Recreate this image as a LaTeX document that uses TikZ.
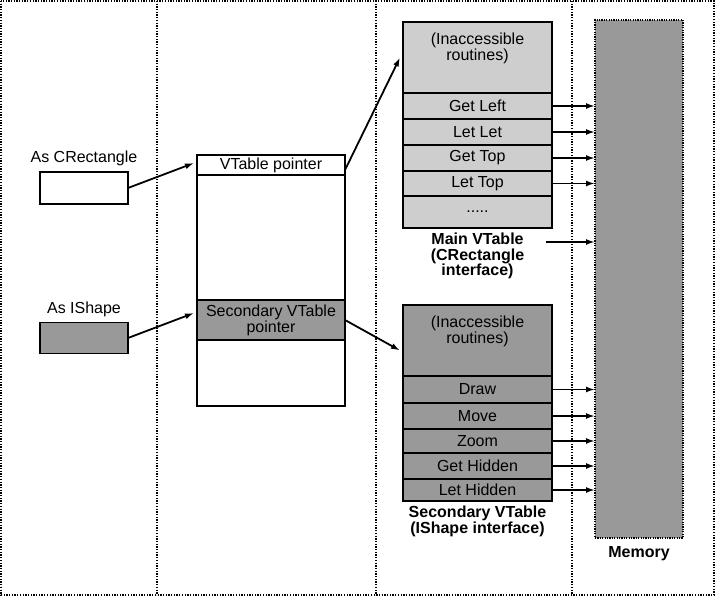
\documentclass[tikz,border=0pt]{standalone}
\usepackage{fontspec}
\setmainfont{Liberation Sans}
\usetikzlibrary{arrows.meta}
\definecolor{lightfill}{RGB}{206,206,206}
\definecolor{darkfill}{RGB}{153,153,153}
\begin{document}
\begin{tikzpicture}[x=1pt,y=-1pt,>={Latex[length=9pt,width=6pt]},
	every node/.style={font=\fontsize{16}{16}\selectfont,inner sep=0pt,outer sep=0pt,align=center},
	frame/.style={line width=1.3pt,dash pattern=on 1.3pt off 1.4pt},
	cell/.style={draw,line width=1.6pt,minimum width=149,minimum height=#1,anchor=north},
	mrow/.style={cell=#1,fill=lightfill},
	srow/.style={cell=#1,fill=darkfill},
	lbl/.style={font=\fontsize{16}{15.5}\selectfont\bfseries},
	arr/.style={->,line width=1.8pt}]
	\useasboundingbox (0,0) rectangle (715,596);
	% dotted frame and columns
	\draw[frame] (1,1) rectangle (714,595);
	\foreach \x in {157,376,572}
		\draw[frame] (\x,1) -- (\x,595);
	% the two references
	\node[draw,line width=1.6pt,minimum width=88,minimum height=32] (crect) at (84,188) {};
	\node[above=6pt] at (crect.north) {As CRectangle};
	\node[draw,line width=1.6pt,fill=darkfill,minimum width=88,minimum height=31] (ishape) at (84,338) {};
	\node[above=6pt] at (ishape.north) {As IShape};
	% the object
	\node[draw,line width=1.6pt,minimum width=148,minimum height=251,anchor=north] (obj) at (271,155) {};
	\node[cell=20,minimum width=148] (vtp) at (obj.north) {VTable pointer};
	\node[cell=40,minimum width=148,fill=darkfill] (spt) at (271,300) {Secondary VTable\\pointer};
	% main vtable
	\node[mrow=71] (mhid) at (477.5,22) {};
	\node[below=11pt] at (mhid.north) {(Inaccessible\\routines)};
	\node[mrow=26] (getleft) at (mhid.south) {Get Left};
	\node[mrow=26] (letlet) at (getleft.south) {Let Let};
	\node[mrow=26] (gettop) at (letlet.south) {Get Top};
	\node[mrow=25] (lettop) at (gettop.south) {Let Top};
	\node[mrow=32] (dots) at (lettop.south) {.....};
	\node[lbl,below=5pt] (mlbl) at (dots.south) {Main VTable\\(CRectangle\\interface)};
	% secondary vtable
	\node[srow=71] (shid) at (477.5,305) {};
	\node[below=11pt] at (shid.north) {(Inaccessible\\routines)};
	\node[srow=27] (shdraw) at (shid.south) {Draw};
	\node[srow=26] (shmove) at (shdraw.south) {Move};
	\node[srow=24] (shzoom) at (shmove.south) {Zoom};
	\node[srow=26] (gethidden) at (shzoom.south) {Get Hidden};
	\node[srow=22] (lethidden) at (gethidden.south) {Let Hidden};
	\node[lbl,below=5pt] at (lethidden.south) {Secondary VTable\\(IShape interface)};
	% memory
	\node[draw,fill=darkfill,line width=1.2pt,dash pattern=on 1.2pt off 1.2pt,minimum width=88,minimum height=518,anchor=north west] (mem) at (595,20) {};
	\node[lbl,below=8pt] at (mem.south) {Memory};
	% pointers
	\draw[arr] (crect.east) -- ([xshift=-3pt,yshift=2pt]vtp.west);
	\draw[arr] (ishape.east) -- ([xshift=-3pt,yshift=7pt]spt.west);
	\draw[arr] ([yshift=-5pt]vtp.east) -- ([xshift=-3pt]mhid.west);
	\draw[arr] (spt.east) -- ([xshift=-3pt,yshift=-10pt]shid.west);
	\foreach \r in {getleft,letlet,gettop,lettop,shdraw,shmove,shzoom,gethidden,lethidden}
		\draw[arr] (\r.east) -- (\r.east -| mem.west);
	\coordinate (mfree) at (546,242);
	\draw[arr] (mfree) -- (mfree -| mem.west);
\end{tikzpicture}
\end{document}
